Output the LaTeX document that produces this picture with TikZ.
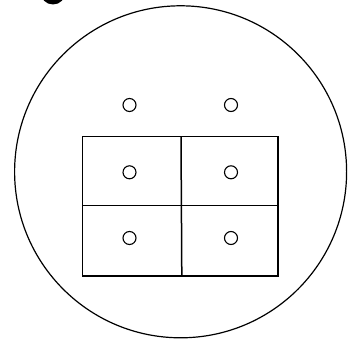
\documentclass[tikz,border=0pt]{standalone}
\begin{document}
\begin{tikzpicture}[x=1pt,y=-1pt,
  dot/.style={circle,draw,line width=1.1pt,minimum size=13pt,inner sep=0pt},
  cellbox/.style={draw,line width=1.5pt}]
\useasboundingbox (0,0) rectangle (348,345);
% partial black disk at top left
\fill (53,-8) circle[radius=12.5];
% big circle
\draw[line width=1.2pt] (180.6,171.8) circle[radius=166];
% grid
\draw[cellbox] (82.5,136.7) rectangle (278,275.8);
\draw[cellbox] (82.5,205.7) -- (278,205.7);
\draw[cellbox] (181,136.7) -- (181.8,275.8);
% small circles
\node[dot] (a1) at (129.5,105) {};
\node[dot] (a2) at (231,105) {};
\node[dot] (b1) at (129.5,172.3) {};
\node[dot] (b2) at (231,172.3) {};
\node[dot] (c1) at (129.5,238) {};
\node[dot] (c2) at (231,238) {};
\end{tikzpicture}
\end{document}
